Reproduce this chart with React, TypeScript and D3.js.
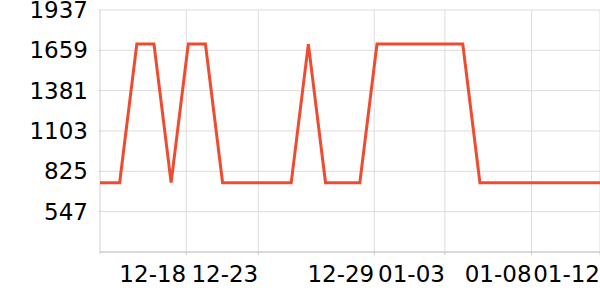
import React from "react";
import * as d3 from "d3";

const values: number[] = [
  747, 747, 1702, 1702, 747, 1702, 1702, 747, 747, 747,
  747, 747, 1702, 747, 747, 747, 1702, 1702, 1702, 1702,
  1702, 1702, 747, 747, 747, 747, 747, 747, 747, 747,
];
const yTicks: number[] = [547, 825, 1103, 1381, 1659, 1937];
const yMin = 269;
const xTickLabels: string[] = ["12-18", "12-23", "12-29", "01-03", "01-08", "01-12"];
const xTickIndex: number[] = [4.88, 9.08, 15.84, 19.96, 25.01, 29];

export default function App() {
  const W = 600, H = 300;
  const left = 100, right = 600, top = 10, bottom = 252;
  const x = d3.scaleLinear().domain([0, values.length - 1]).range([left + 2.5, right]);
  const y = d3.scaleLinear().domain([yMin, yTicks[yTicks.length - 1]]).range([bottom, top]);
  const pts: [number, number][] = [[x.invert(left), values[0]], ...values.map((v, i) => [i, v] as [number, number])];
  const line = d3.line<[number, number]>().x((d) => x(d[0])).y((d) => y(d[1]));
  const font = "DejaVu Sans, sans-serif";
  return (
    <svg width={W} height={H} style={{ position: "absolute", left: 0, top: 0 }}>
      <rect width={W} height={H} fill="#fff" />
      {yTicks.map((t) => (
        <line key={"gy" + t} x1={left - 2} x2={right} y1={y(t)} y2={y(t)} stroke="#dcdcdc" strokeWidth={1} />
      ))}
      {xTickIndex.map((t, i) => (
        <line key={"gx" + i} x1={x(t)} x2={x(t)} y1={top} y2={bottom} stroke="#dcdcdc" strokeWidth={1} />
      ))}
      <line x1={left} x2={left} y1={top} y2={bottom + 2} stroke="#d0d0d0" strokeWidth={1} />
      <line x1={left} x2={right} y1={bottom} y2={bottom} stroke="#b4b4b4" strokeWidth={1} />
      {xTickIndex.map((t, i) => (
        <line key={"tx" + i} x1={x(t)} x2={x(t)} y1={bottom} y2={bottom + 3} stroke="#c8c8c8" strokeWidth={1} />
      ))}
      <path d={line(pts) || ""} fill="none" stroke="#f04b30" strokeWidth={3} strokeLinejoin="miter" />
      {yTicks.map((t) => (
        <text key={"ly" + t} x={88} y={y(t)} textAnchor="end" dominantBaseline="central" fontFamily={font} fontSize={23} fill="#000">
          {t}
        </text>
      ))}
      {xTickIndex.map((t, i) => (
        <text key={"lx" + i} x={x(t)} y={282} textAnchor="end" fontFamily={font} fontSize={23} fill="#000">
          {xTickLabels[i]}
        </text>
      ))}
    </svg>
  );
}
